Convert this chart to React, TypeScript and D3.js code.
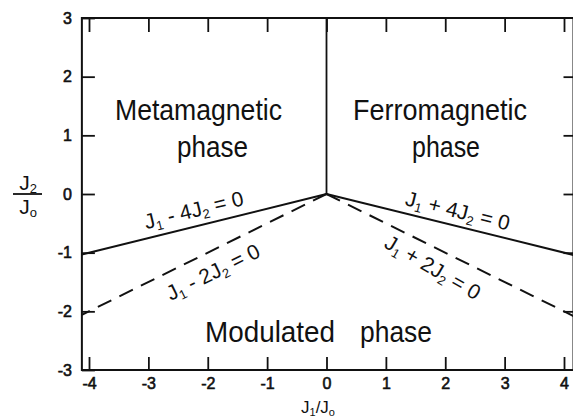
import { useEffect, useRef } from 'react';
import * as d3 from 'd3';

const W = 573;
const H = 418;

// axis ticks
const xTicks = [-4, -3, -2, -1, 0, 1, 2, 3, 4];
const yTicks = [-3, -2, -1, 0, 1, 2, 3];

// phase boundaries: J1 + c*J2 = 0  (left half for c<0, right half for c>0)
const boundaryCoef = [-4, -2, 4, 2];
const boundaryDashed = [false, true, false, true];
// J1 = 0 for J2 > 0
const verticalBoundary = [[0, 0], [0, 3]];

const phaseNames = ['Metamagnetic', 'Ferromagnetic', 'Modulated'];
const phaseWord = 'phase';

const FONT = '"Liberation Sans", Arial, sans-serif';

export default function App() {
  const ref = useRef<SVGSVGElement>(null);

  useEffect(() => {
    const svg = d3.select(ref.current);
    svg.selectAll('*').remove();

    const x = d3.scaleLinear().domain([-4, 4]).range([89, 564]);
    const y = d3.scaleLinear().domain([-3, 3]).range([370, 18]);
    const xL = -4.12;
    const xR = 4.16;

    const g = svg.append('g').attr('font-family', FONT).attr('fill', '#111');

    // frame
    g.append('rect')
      .attr('x', x(xL))
      .attr('y', y(3))
      .attr('width', x(xR) - x(xL))
      .attr('height', y(-3) - y(3))
      .attr('fill', 'none')
      .attr('stroke', '#111')
      .attr('stroke-width', 2);

    const styleAxis = (a: any) => {
      a.select('.domain').remove();
      a.selectAll('line').attr('stroke', '#111').attr('stroke-width', 1.8);
      a.selectAll('text')
        .attr('fill', '#111')
        .attr('stroke', '#111')
        .attr('stroke-width', 0.6)
        .attr('font-size', 16)
        .attr('font-family', FONT);
    };

    g.append('g')
      .attr('transform', `translate(0,${y(-3)})`)
      .call(d3.axisBottom(x).tickValues(xTicks).tickSize(-13).tickPadding(8).tickFormat((d: any) => String(d)))
      .call(styleAxis);

    g.append('g')
      .attr('transform', `translate(0,${y(3)})`)
      .call(d3.axisTop(x).tickValues(xTicks).tickSize(-14).tickFormat(() => ''))
      .call(styleAxis);

    g.append('g')
      .attr('transform', `translate(${x(xL)},0)`)
      .call(d3.axisLeft(y).tickValues(yTicks).tickSize(-13).tickPadding(10).tickFormat((d: any) => String(d)))
      .call(styleAxis);

    g.append('g')
      .attr('transform', `translate(${x(xR)},0)`)
      .call(d3.axisRight(y).tickValues(yTicks.slice(1, -1)).tickSize(-10).tickFormat(() => ''))
      .call(styleAxis);

    // boundaries
    const line = d3.line<number[]>().x(d => x(d[0])).y(d => y(d[1]));

    g.append('path')
      .attr('d', line(verticalBoundary))
      .attr('fill', 'none')
      .attr('stroke', '#111')
      .attr('stroke-width', 1.8);

    boundaryCoef.forEach((c, i) => {
      const end = c < 0 ? xL : xR;
      const pts = [[0, 0], [end, -end / c]];
      g.append('path')
        .attr('d', line(pts))
        .attr('fill', 'none')
        .attr('stroke', '#111')
        .attr('stroke-width', 2)
        .attr('stroke-dasharray', boundaryDashed[i] ? '15,9' : null);
    });

    // equation labels along the boundaries
    const eqPlace = [
      { t: -2.17, off: -9, extra: 0 },
      { t: -2.06, off: 27, extra: 0 },
      { t: 2.15, off: -8, extra: 0 },
      { t: 1.95, off: 26, extra: 4 },
    ];
    boundaryCoef.forEach((c, i) => {
      const p = eqPlace[i];
      const px = x(p.t);
      const py = y(-p.t / c);
      const dx = x(1) - x(0);
      const dy = y(-1 / c) - y(0);
      const ang = (Math.atan2(dy, dx) * 180) / Math.PI + p.extra;
      const t = g.append('text')
        .attr('transform', `translate(${px},${py}) rotate(${ang})`)
        .attr('y', p.off)
        .attr('text-anchor', 'middle')
        .attr('font-size', 21);
      const sign = c < 0 ? '-' : '+';
      t.append('tspan').text('J');
      t.append('tspan').attr('font-size', 13).attr('dy', 4).text('1');
      t.append('tspan').attr('dy', -4).text(` ${sign} ${Math.abs(c)}J`);
      t.append('tspan').attr('font-size', 13).attr('dy', 4).text('2');
      t.append('tspan').attr('dy', -4).text(' = 0');
    });

    // phase labels
    const word = (s: string, cx: number, base: number, len: number) =>
      g.append('text')
        .attr('x', cx)
        .attr('y', base)
        .attr('text-anchor', 'middle')
        .attr('font-size', 30)
        .attr('textLength', len)
        .attr('lengthAdjust', 'spacingAndGlyphs')
        .text(s);

    word(phaseNames[0], 198.5, 120, 167);
    word(phaseWord, 212.5, 157, 71);
    word(phaseNames[1], 440, 120, 174);
    word(phaseWord, 446, 157, 68);
    word(phaseNames[2], 270, 342, 130);
    word(phaseWord, 396, 342, 72);

    // axis titles
    const yt = g.append('g').attr('font-size', 21).attr('text-anchor', 'middle');
    const j2 = yt.append('text').attr('x', 28).attr('y', 190);
    j2.append('tspan').text('J');
    j2.append('tspan').attr('font-size', 13).attr('dy', 3).text('2');
    yt.append('line')
      .attr('x1', 13).attr('x2', 42)
      .attr('y1', 194).attr('y2', 194)
      .attr('stroke', '#111').attr('stroke-width', 1.8);
    const j0 = yt.append('text').attr('x', 28).attr('y', 214);
    j0.append('tspan').text('J');
    j0.append('tspan').attr('font-size', 13).attr('dy', 3).text('o');

    const xt = g.append('text')
      .attr('x', 318)
      .attr('y', 413)
      .attr('text-anchor', 'middle')
      .attr('font-size', 17);
    xt.append('tspan').text('J');
    xt.append('tspan').attr('font-size', 11).attr('dy', 3).text('1');
    xt.append('tspan').attr('dy', -3).text('/J');
    xt.append('tspan').attr('font-size', 11).attr('dy', 3).text('o');
  }, []);

  return (
    <svg
      ref={ref}
      width={W}
      height={H}
      style={{ position: 'absolute', left: 0, top: 0, background: '#fff' }}
    />
  );
}
